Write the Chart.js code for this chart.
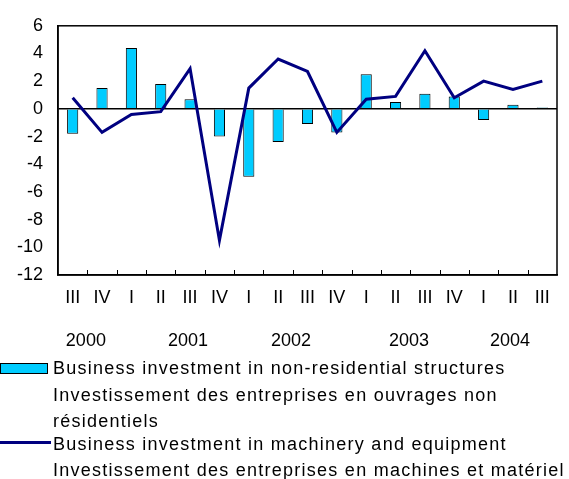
<!DOCTYPE html>
<html>
<head>
<meta charset="utf-8">
<script src="https://cdn.jsdelivr.net/npm/chart.js@4"></script>
<style>
  html, body { margin: 0; padding: 0; background: #fff; }
  #wrap { position: relative; width: 569px; height: 479px; overflow: hidden; }
  #chart { position: absolute; left: 0; top: 0; }
  .lg { position: absolute; left: 53px; font-family: "Liberation Sans", Arial, sans-serif; font-size: 18px; letter-spacing: 1.25px; color: #000; white-space: nowrap; line-height: 20px; }
  .sw-bar { position: absolute; left: 0; top: 363px; width: 46px; height: 9px; background: #00CCFF; border: 1px solid #000; }
  .sw-line { position: absolute; left: 0; top: 441px; width: 51px; height: 3px; background: #000080; }
</style>
</head>
<body>
<div id="wrap">
  <canvas id="chart" width="569" height="479"></canvas>
  <div class="sw-bar"></div>
  <div class="lg" style="top:358px">Business investment in non-residential structures</div>
  <div class="lg" style="top:385px">Investissement des entreprises en ouvrages non</div>
  <div class="lg" style="top:411px">résidentiels</div>
  <div class="sw-line"></div>
  <div class="lg" style="top:434px">Business investment in machinery and equipment</div>
  <div class="lg" style="top:460px">Investissement des entreprises en machines et matériel</div>
</div>
<script>
// 四半期ラベル (2000 III 〜 2004 III)
const quarters = ['III', 'IV', 'I', 'II', 'III', 'IV', 'I', 'II', 'III', 'IV', 'I', 'II', 'III', 'IV', 'I', 'II', 'III'];
// 非住宅構造物への投資 (棒)
const structures = [-1.8, 1.5, 4.4, 1.8, 0.7, -2.0, -4.9, -2.4, -1.1, -1.7, 2.5, 0.5, 1.1, 0.9, -0.8, 0.3, 0.1];
// 機械・設備への投資 (線)
const machinery = [0.8, -1.7, -0.4, -0.2, 2.9, -9.5, 1.5, 3.6, 2.7, -1.7, 0.7, 0.9, 4.2, 0.8, 2.0, 1.4, 2.0];
// 年ラベルとその位置 (カテゴリ番号)
const years = ['2000', '2001', '2002', '2003', '2004'];
const yearAt = [0.45, 3.93, 7.44, 11.46, 14.9];

const FONT = '"Liberation Sans", Arial, sans-serif';

// 枠線・内側の目盛り・年ラベルを描くプラグイン
const decorPlugin = {
    id: 'decor',
    afterDraw(c) {
        const ctx = c.ctx;
        const area = c.chartArea;
        const x = c.scales.x;
        const step = x.getPixelForValue(1) - x.getPixelForValue(0);
        ctx.save();
        ctx.strokeStyle = '#000';
        ctx.lineWidth = 1;
        ctx.beginPath();
        for (let i = 1; i < quarters.length; i++) {
            const px = Math.round(x.getPixelForValue(i) - step / 2) + 0.5;
            ctx.moveTo(px, area.bottom);
            ctx.lineTo(px, area.bottom - 5);
        }
        ctx.stroke();
        ctx.lineWidth = 1.5;
        ctx.strokeRect(area.left, area.top, area.right - area.left, area.bottom - area.top);
        ctx.fillStyle = '#000';
        ctx.font = '18px ' + FONT;
        ctx.textAlign = 'center';
        ctx.textBaseline = 'middle';
        years.forEach((y, i) => {
            const px = x.getPixelForValue(0) + yearAt[i] * step;
            ctx.fillText(y, px, 341);
        });
        ctx.restore();
    }
};

const ctx = document.getElementById('chart').getContext('2d');
const chart = new Chart(ctx, {
    data: {
        labels: quarters,
        datasets: [{
            type: 'line',
            label: 'Business investment in machinery and equipment',
            data: machinery,
            borderColor: '#000080',
            borderWidth: 3,
            pointRadius: 0,
            tension: 0,
            fill: false,
            order: 0
        }, {
            type: 'bar',
            label: 'Business investment in non-residential structures',
            data: structures,
            backgroundColor: '#00CCFF',
            borderColor: '#000',
            borderWidth: 1,
            barPercentage: 0.38,
            categoryPercentage: 1,
            order: 1
        }]
    },
    options: {
        responsive: false,
        animation: false,
        layout: { padding: { top: 22, right: 12, left: 0, bottom: 0 } },
        plugins: { legend: { display: false }, tooltip: { enabled: false } },
        scales: {
            x: {
                offset: true,
                grid: { display: false, drawTicks: false },
                border: { display: true, color: '#000', width: 1.5 },
                ticks: { color: '#000', font: { family: FONT, size: 18 }, padding: 12, maxRotation: 0, autoSkip: false },
                afterFit(s) { s.height = 204; }
            },
            y: {
                min: -12,
                max: 6,
                ticks: { stepSize: 2, color: '#000', font: { family: FONT, size: 18 }, padding: 15 },
                grid: {
                    drawTicks: false,
                    color: (c) => (c.tick && c.tick.value === 0 ? '#000' : 'rgba(0,0,0,0)'),
                    lineWidth: 1.5
                },
                border: { display: true, color: '#000', width: 1.5 },
                afterFit(s) { s.width = 58; }
            }
        }
    },
    plugins: [decorPlugin]
});
</script>
</body>
</html>
